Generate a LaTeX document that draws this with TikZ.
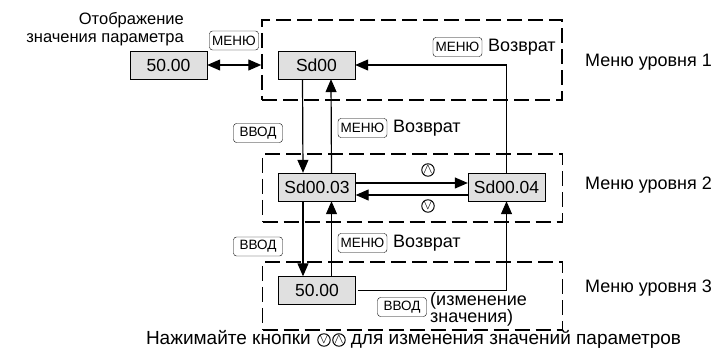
\documentclass[tikz,border=0pt]{standalone}
\usepackage{fontspec}
\setmainfont{Liberation Sans}
\usetikzlibrary{arrows.meta,positioning}

\tikzset{
  valbox/.style={draw, fill=black!12, minimum width=77pt, minimum height=28pt, inner sep=0pt, font=\fontsize{17.5}{17.5}\selectfont},
  keybox/.style={draw, rounded corners=3pt, inner sep=0pt, minimum width=49pt, minimum height=19pt, font=\fontsize{13.5}{13.5}\selectfont},
  levelbox/.style={draw, dash pattern=on 15pt off 6pt, line width=1.5pt, minimum width=300pt, inner sep=0pt},
  flow/.style={-{Triangle[length=13pt,width=11pt]}, line width=1.2pt},
  lbl/.style={font=\fontsize{18}{20}\selectfont, text height=13pt, text depth=4pt, inner sep=0pt},
  updown/.style={draw, circle, inner sep=0pt, minimum size=12pt, line width=1pt, font=\fontsize{14}{14}\selectfont}
}

\begin{document}
\begin{tikzpicture}[x=1pt, y=-1pt]
    \useasboundingbox (0,0) rectangle (716,358);

    % уровни меню
    \node[levelbox, minimum height=80pt] (lvl1) at (412,60) {};
    \node[levelbox, minimum height=68pt] (lvl2) at (412.5,188) {};
    \node[levelbox, minimum height=68pt] (lvl3) at (412.5,296) {};
    \node[lbl, anchor=west] (lab1) at (585,62) {Меню уровня 1};
    \node[lbl, anchor=west] (lab2) at (585,185) {Меню уровня 2};
    \node[lbl, anchor=west] (lab3) at (585,288) {Меню уровня 3};

    % отображение параметра
    \node[lbl, anchor=east, align=right, text height=, text depth=, font=\fontsize{16.5}{18}\selectfont] (disp) at (184,29) {Отображение\\значения параметра};
    \node[valbox] (val0) at (168.5,65) {50.00};
    \node[keybox] (key0) at (234,40.5) {МЕНЮ};
    \draw[{Triangle[length=13pt,width=11pt]}-{Triangle[length=13pt,width=11pt]}, line width=1.2pt] (val0.east) -- (val0.east -| lvl1.west);

    % уровень 1
    \node[valbox] (sd00) at (316.5,65) {Sd00};
    \node[keybox] (key1) at (457.5,47) {МЕНЮ};
    \node[lbl, anchor=west] (ret1) at (488,47) {Возврат};

    % уровень 2
    \node[valbox] (sd03) at (317,187) {Sd00.03};
    \node[valbox] (sd04) at (506.5,187) {Sd00.04};
    \node[keybox] (key2) at (258,133) {ВВОД};
    \node[keybox] (key3) at (362.5,128) {МЕНЮ};
    \node[lbl, anchor=west] (ret2) at (393,128) {Возврат};
    \node[updown] (up1) at (428,170) {$\wedge$};
    \node[updown] (dn1) at (428,206) {$\vee$};

    % уровень 3
    \node[valbox] (val3) at (317,290.5) {50.00};
    \node[keybox] (key4) at (258,246.5) {ВВОД};
    \node[keybox] (key5) at (362.5,243) {МЕНЮ};
    \node[lbl, anchor=west] (ret3) at (393,243) {Возврат};
    \node[keybox] (key6) at (402,307) {ВВОД};
    \node[lbl, anchor=west, align=left, text height=, text depth=, font=\fontsize{18}{17}\selectfont] (chg) at (430,309) {(изменение\\значения)};

    % переходы
    \draw[flow] ([xshift=-14pt]sd00.south) -- ([xshift=-14pt]sd03.north);
    \draw[flow] ([xshift=14.5pt]sd03.north) -- ([xshift=14.5pt]sd00.south);
    \draw[flow] (sd04.north) |- (sd00.east);
    \draw[flow] ([yshift=4pt]sd03.east) -- ([yshift=4pt]sd04.west);
    \draw[flow] ([yshift=-8pt]sd04.west) -- ([yshift=-8pt]sd03.east);
    \draw[flow] ([xshift=-14pt]sd03.south) -- ([xshift=-14pt]val3.north);
    \draw[flow] ([xshift=14.5pt]val3.north) -- ([xshift=14.5pt]sd03.south);
    \draw[flow] ([xshift=2pt]val3.east) -| (sd04.south);

    % подпись
    \node[lbl, anchor=east, font=\fontsize{19}{20}\selectfont] (capa) at (311,340) {Нажимайте кнопки};
    \node[updown] (capdn) at (324,340) {$\vee$};
    \node[updown, right=1.5pt of capdn] (capup) {$\wedge$};
    \node[lbl, right=5pt of capup, font=\fontsize{19}{20}\selectfont] (capb) {для изменения значений параметров};
\end{tikzpicture}
\end{document}
